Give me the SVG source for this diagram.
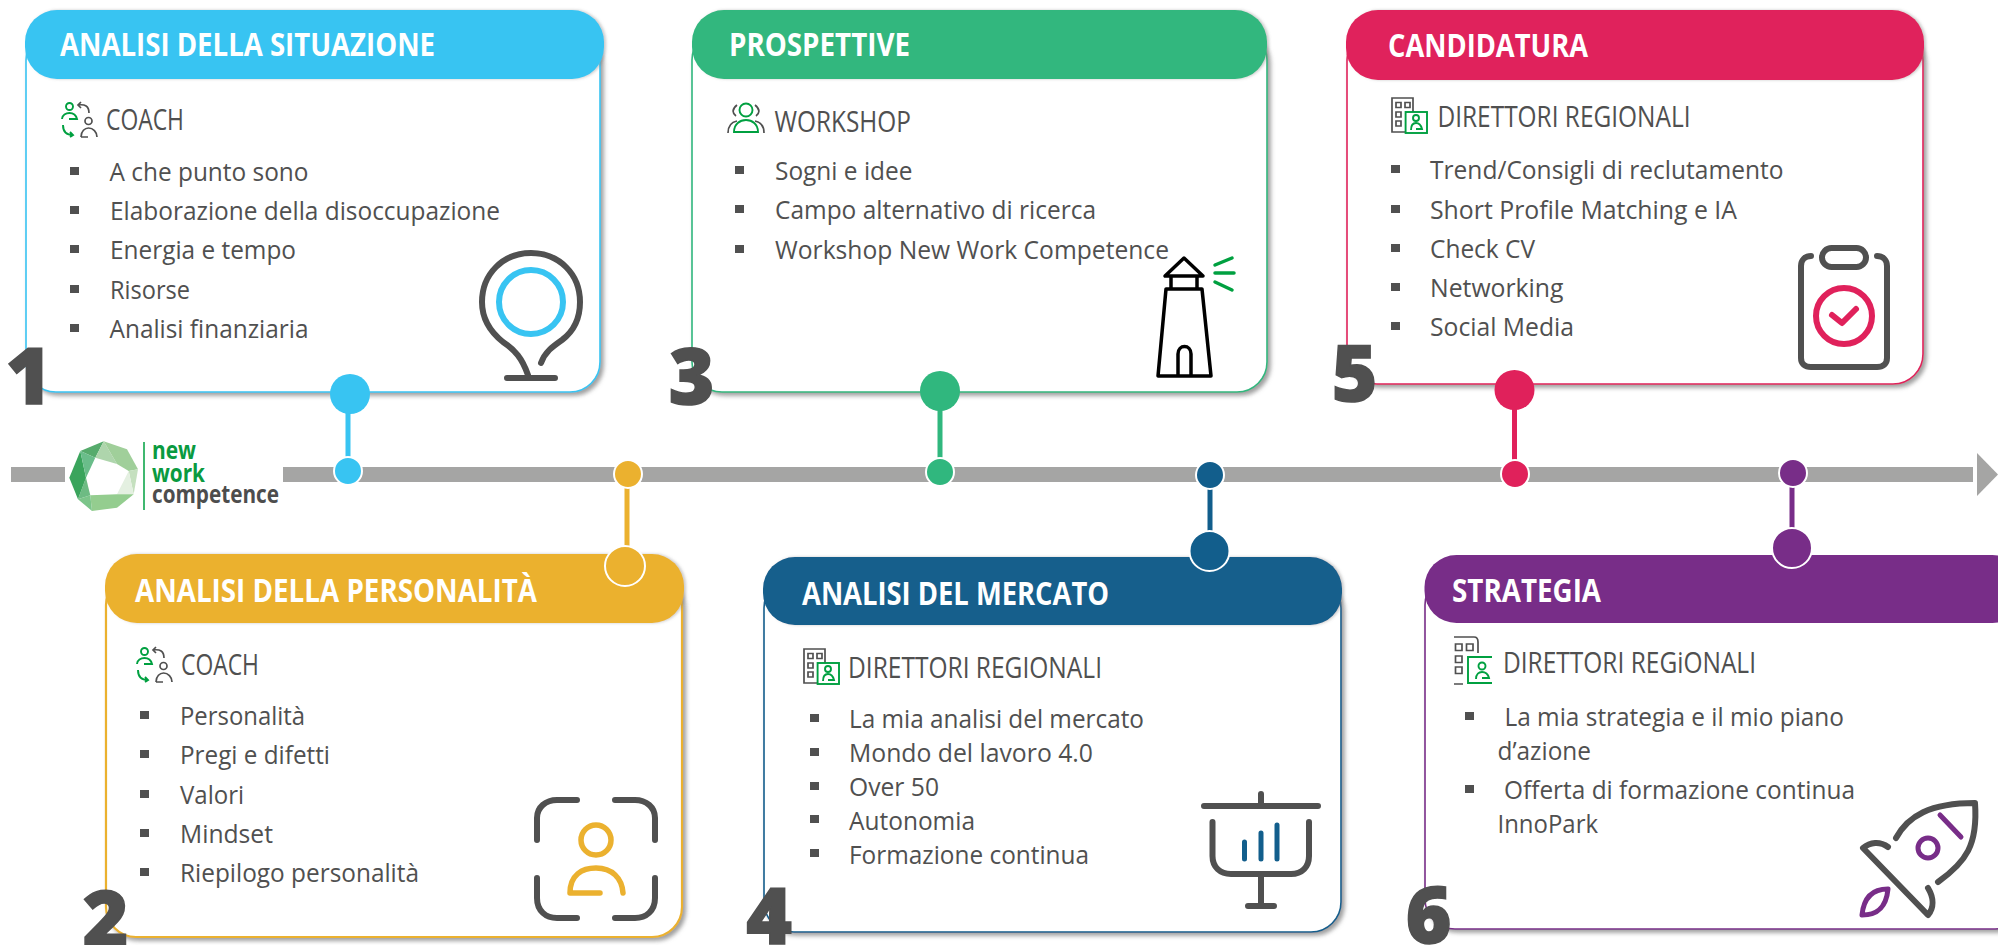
<svg xmlns="http://www.w3.org/2000/svg" width="1998" height="945" viewBox="0 0 1998 945">
<style>
text{font-family:"Open Sans","Liberation Sans",sans-serif;fill:#505050}
.h{font-weight:700;font-size:32px;fill:#fff}
.r{font-size:28.500px}
.t{font-size:25.500px}
.n{font-size:78px;font-weight:800;text-anchor:middle;stroke:#505050;stroke-width:1.500}
.l{font-size:24.500px;font-weight:700}
.body{fill:#fff;stroke-width:1.600;filter:url(#sh)}
.head{filter:url(#sh2)}
.b{fill:#505050}
.i{fill:none;stroke:#505050;stroke-width:6;stroke-linecap:round;stroke-linejoin:round}
.g1{fill:none;stroke:#505050;stroke-width:1.700}
.g2{fill:none;stroke:#00a040;stroke-width:1.900}
</style>
<defs>
<filter id="sh" x="-5%" y="-5%" width="110%" height="110%"><feDropShadow dx="3" dy="3" stdDeviation="2" flood-color="#777" flood-opacity=".7"/></filter>
<filter id="sh2" x="-5%" y="-10%" width="110%" height="120%"><feDropShadow dx="2" dy="0" stdDeviation="1.500" flood-color="#777" flood-opacity=".4"/></filter>
<g id="coach">
<circle class="g2" cx="8.500" cy="4.500" r="3.500"/>
<path class="g2" d="M1 17C1 13 5 11 8.500 11C12 11 15 13 16 17H8M2 23C2 29 5 33 12 33M9 30L12 33L9 35"/>
<path class="g1" d="M17 3C24 2 28 4 28 11M20 0L17 3L20 6M20 35C20 29 24 26 27.500 26C32 26 36 30 36 35M20 35H27"/>
<circle class="g1" cx="27.500" cy="19" r="3.500"/>
</g>
<g id="dir">
<path class="g1" d="M22 15V1H1V35H14"/>
<path class="g1" d="M5 5.500h5v5h-5zM14 5.500h5v5h-5zM5 15h5v5h-5zM5 24h5v5h-5z"/>
<rect class="g2" x="14.600" y="15" width="21.400" height="21"/>
<circle class="g2" cx="25" cy="21" r="3"/>
<path class="g2" d="M20 33C20 28 22 26 25 26C28 26 30 28 31 32H25"/>
</g>
</defs>
<g id="connectors">
<path d="M11 467H65V482H11ZM283 467H1973V482H283Z" fill="#a5a5a4"/>
<path d="M1977 453L1998 474.500L1977 496Z" fill="#a5a5a4"/>
</g>
<g id="card1">
<rect class="body" x="26" y="30" width="574" height="362" rx="30" stroke="#38c4f2"/>
<rect class="head" x="25" y="10" width="579" height="69" rx="32" fill="#38c4f2"/>
<text class="h" x="60" y="56" textLength="375" lengthAdjust="spacingAndGlyphs">ANALISI DELLA SITUAZIONE</text>
<use href="#coach" x="61" y="102"/>
<text class="r" x="106" y="130" textLength="78" lengthAdjust="spacingAndGlyphs">COACH</text>
<path class="b" d="M70 167h9v8h-9zM70 206h9v8h-9zM70 245h9v8h-9zM70 285h9v8h-9zM70 324h9v8h-9z"/>
<text class="t" x="109.500" y="181" textLength="199" lengthAdjust="spacingAndGlyphs">A che punto sono</text>
<text class="t" x="110" y="220" textLength="390" lengthAdjust="spacingAndGlyphs">Elaborazione della disoccupazione</text>
<text class="t" x="110" y="259" textLength="186" lengthAdjust="spacingAndGlyphs">Energia e tempo</text>
<text class="t" x="110" y="299" textLength="80" lengthAdjust="spacingAndGlyphs">Risorse</text>
<text class="t" x="109.500" y="338" textLength="199" lengthAdjust="spacingAndGlyphs">Analisi finanziaria</text>
<path class="i" d="M528 375C522 358 515 350 503 342C488 330 482 316 482 302C482 274 503 253 531 253C559 253 580 274 580 302C580 318 574 331 562 340C552 347 545 352 541 363M507 378H555"/>
<circle cx="531" cy="302" r="32" fill="none" stroke="#38c4f2" stroke-width="6"/>
<text class="n" x="28.500" y="404">1</text>
</g>
<g id="card3">
<rect class="body" x="692" y="30" width="575" height="362" rx="30" stroke="#30b77e"/>
<rect class="head" x="692" y="10" width="575" height="69" rx="32" fill="#30b77e"/>
<text class="h" x="729" y="56" textLength="181" lengthAdjust="spacingAndGlyphs">PROSPETTIVE</text>
<g transform="translate(728,102)">
<ellipse class="g2" cx="18" cy="8" rx="6.500" ry="6.500"/>
<path class="g1" d="M9 3C4 7 4 11 8 14M27 3C32 7 32 11 28 14M0 31C0 24 4 20 9 19M36 31C36 24 32 20 27 19"/>
<path class="g2" d="M6 30C6 22 12 18 18 18C24 18 30 22 30 30Z"/>
</g>
<text class="r" x="774.500" y="132" textLength="136.500" lengthAdjust="spacingAndGlyphs">WORKSHOP</text>
<path class="b" d="M735 166h9v8h-9zM735 205h9v8h-9zM735 245h9v8h-9z"/>
<text class="t" x="775" y="180" textLength="137.500" lengthAdjust="spacingAndGlyphs">Sogni e idee</text>
<text class="t" x="775" y="219" textLength="321" lengthAdjust="spacingAndGlyphs">Campo alternativo di ricerca</text>
<text class="t" x="775" y="259" textLength="394" lengthAdjust="spacingAndGlyphs">Workshop New Work Competence</text>
<path d="M1184 258L1165 276H1203ZM1171 276V289H1197V276M1166 289L1158 376H1211L1202 289ZM1178 376V354C1178 344 1191 344 1191 354V376" fill="none" stroke="#000" stroke-width="3.500" stroke-linejoin="round"/>
<path d="M1215 265L1232 258M1215 273H1234M1215 282L1232 290" fill="none" stroke="#00a040" stroke-width="3.500" stroke-linecap="round"/>
<text class="n" x="691.500" y="404">3</text>
</g>
<g id="card5">
<rect class="body" x="1347" y="30" width="576" height="354" rx="30" stroke="#e0215b"/>
<rect class="head" x="1346" y="10" width="578" height="70" rx="32" fill="#e0215b"/>
<text class="h" x="1388" y="57" textLength="200" lengthAdjust="spacingAndGlyphs">CANDIDATURA</text>
<use href="#dir" x="1391" y="97"/>
<text class="r" x="1437.500" y="127" textLength="253" lengthAdjust="spacingAndGlyphs">DIRETTORI REGIONALI</text>
<path class="b" d="M1391 165h9v8h-9zM1391 205h9v8h-9zM1391 244h9v8h-9zM1391 283h9v8h-9zM1391 322h9v8h-9z"/>
<text class="t" x="1430" y="179" textLength="353.500" lengthAdjust="spacingAndGlyphs">Trend/Consigli di reclutamento</text>
<text class="t" x="1430" y="219" textLength="307" lengthAdjust="spacingAndGlyphs">Short Profile Matching e IA</text>
<text class="t" x="1430" y="258" textLength="105" lengthAdjust="spacingAndGlyphs">Check CV</text>
<text class="t" x="1430" y="297" textLength="133.500" lengthAdjust="spacingAndGlyphs">Networking</text>
<text class="t" x="1430" y="336" textLength="144" lengthAdjust="spacingAndGlyphs">Social Media</text>
<path class="i" d="M1811 256C1805 256 1801 260 1801 266V358C1801 364 1805 367 1811 367H1877C1883 367 1887 364 1887 358V266C1887 260 1883 256 1877 256"/>
<rect class="i" x="1822" y="248" width="44" height="19" rx="9.500"/>
<circle cx="1844" cy="316" r="28" fill="none" stroke="#e0215b" stroke-width="6"/>
<path d="M1832 315L1842 323L1856 309" fill="none" stroke="#e0215b" stroke-width="6" stroke-linecap="round" stroke-linejoin="round"/>
<text class="n" x="1354.500" y="401">5</text>
</g>
<g id="card2">
<rect class="body" x="106" y="575" width="576" height="362" rx="30" stroke="#ebb12f" style="stroke-width:2.200"/>
<rect class="head" x="105" y="554" width="579" height="69" rx="32" fill="#ebb12f"/>
<text class="h" x="135" y="602" textLength="402" lengthAdjust="spacingAndGlyphs">ANALISI DELLA PERSONALITÀ</text>
<use href="#coach" x="136" y="647"/>
<text class="r" x="181" y="675" textLength="78" lengthAdjust="spacingAndGlyphs">COACH</text>
<path class="b" d="M140 711h9v8h-9zM140 750h9v8h-9zM140 790h9v8h-9zM140 829h9v8h-9zM140 868h9v8h-9z"/>
<text class="t" x="180" y="725" textLength="125" lengthAdjust="spacingAndGlyphs">Personalità</text>
<text class="t" x="180" y="764" textLength="150" lengthAdjust="spacingAndGlyphs">Pregi e difetti</text>
<text class="t" x="180" y="804" textLength="64" lengthAdjust="spacingAndGlyphs">Valori</text>
<text class="t" x="180" y="843" textLength="93" lengthAdjust="spacingAndGlyphs">Mindset</text>
<text class="t" x="180" y="882" textLength="239" lengthAdjust="spacingAndGlyphs">Riepilogo personalità</text>
<path class="i" d="M537 840V818C537 807 546 800 557 800H577M615 800H635C646 800 655 807 655 818V840M537 878V898C537 911 546 918 557 918H577M615 918H635C646 918 655 911 655 898V878"/>
<ellipse cx="596" cy="840" rx="15" ry="15" fill="none" stroke="#ebb12f" stroke-width="5.500"/>
<path d="M600 893H570C570 875 582 868 596 868C612 868 622 878 623 893" fill="none" stroke="#ebb12f" stroke-width="5.500" stroke-linecap="round" stroke-linejoin="round"/>
<text class="n" x="105.500" y="947">2</text>
</g>
<g id="card4">
<rect class="body" x="764" y="578" width="577" height="354" rx="30" stroke="#125e8c"/>
<rect class="head" x="763" y="557" width="579" height="68" rx="32" fill="#125e8c"/>
<text class="h" x="802" y="605" textLength="307" lengthAdjust="spacingAndGlyphs">ANALISI DEL MERCATO</text>
<use href="#dir" x="803" y="648"/>
<text class="r" x="848" y="678" textLength="254" lengthAdjust="spacingAndGlyphs">DIRETTORI REGIONALI</text>
<path class="b" d="M810 714h9v8h-9zM810 748h9v8h-9zM810 782h9v8h-9zM810 815h9v8h-9zM810 849h9v8h-9z"/>
<text class="t" x="849" y="728" textLength="295" lengthAdjust="spacingAndGlyphs">La mia analisi del mercato</text>
<text class="t" x="849" y="762" textLength="244" lengthAdjust="spacingAndGlyphs">Mondo del lavoro 4.0</text>
<text class="t" x="849" y="796" textLength="90" lengthAdjust="spacingAndGlyphs">Over 50</text>
<text class="t" x="849" y="830" textLength="126" lengthAdjust="spacingAndGlyphs">Autonomia</text>
<text class="t" x="849" y="864" textLength="240" lengthAdjust="spacingAndGlyphs">Formazione continua</text>
<path class="i" d="M1204 806H1318M1261 794V806M1212.500 822V856C1212.500 867 1220 874 1231 874H1291C1302 874 1309 867 1309 856V822M1261 874V906M1248 906H1274"/>
<path d="M1244.500 842V859M1261 833V859M1277 825V859" fill="none" stroke="#125e8c" stroke-width="5" stroke-linecap="round"/>
<text class="n" x="769" y="944">4</text>
</g>
<g id="card6">
<rect class="body" x="1425" y="575" width="600" height="354" rx="30" stroke="#782d88"/>
<rect x="1424.500" y="555" width="600" height="68" rx="32" fill="#782d88"/>
<text class="h" x="1452" y="602" textLength="149" lengthAdjust="spacingAndGlyphs">STRATEGIA</text>
<g>
<path class="g1" d="M1454 637H1474C1477 637 1478 639 1478 642V653M1454 684H1463"/>
<path class="g1" d="M1455.500 644h6.500v6.500h-6.500zM1466.500 644h6.500v6.500h-6.500zM1455.500 656h6.500v6.500h-6.500zM1455.500 667h6.500v6.500h-6.500z"/>
<path class="g2" d="M1492 657H1468V683H1492"/>
<circle class="g2" cx="1482" cy="666" r="3.500"/>
<path class="g2" d="M1476 679C1476 674 1479 672 1482 672C1485 672 1488 674 1489 678H1482"/>
</g>
<text class="r" x="1503" y="673" textLength="253" lengthAdjust="spacingAndGlyphs">DIRETTORI REGiONALI</text>
<path class="b" d="M1465 712h9v8h-9zM1465 785h9v8h-9z"/>
<text class="t" x="1504.500" y="726" textLength="339.500" lengthAdjust="spacingAndGlyphs">La mia strategia e il mio piano</text>
<text class="t" x="1497.500" y="760" textLength="93.500" lengthAdjust="spacingAndGlyphs">d’azione</text>
<text class="t" x="1504" y="799" textLength="351" lengthAdjust="spacingAndGlyphs">Offerta di formazione continua</text>
<text class="t" x="1497.500" y="833" textLength="100.500" lengthAdjust="spacingAndGlyphs">InnoPark</text>
<path class="i" d="M1896 838C1908 816 1930 803 1975 803C1978 845 1966 862 1938 882M1888 847C1880 841 1870 842 1863 848L1928 915C1934 908 1934 898 1928 888" stroke-width="5.500"/>
<circle cx="1928" cy="848" r="10" fill="none" stroke="#782d88" stroke-width="5"/>
<path d="M1940 815L1961 837M1888 889C1875 889 1864 895 1862 915C1875 915 1886 910 1888 889Z" fill="none" stroke="#782d88" stroke-width="5" stroke-linecap="round" stroke-linejoin="round"/>
<text class="n" x="1428.500" y="943">6</text>
</g>
<g id="pins">
<g fill="#38c4f2"><rect x="345.500" y="394" width="5" height="76"/><circle cx="350" cy="394" r="20"/><circle cx="348" cy="471" r="14" stroke="#fff" stroke-width="2"/></g>
<g fill="#ebb12f"><rect x="624.500" y="474" width="5" height="75"/><circle cx="628" cy="474" r="14" stroke="#fff" stroke-width="2"/><circle cx="625" cy="566" r="20" stroke="#fff" stroke-width="2"/></g>
<g fill="#30b77e"><rect x="937.500" y="391" width="5" height="80"/><circle cx="940" cy="391" r="20"/><circle cx="940" cy="472" r="14" stroke="#fff" stroke-width="2"/></g>
<g fill="#125e8c"><rect x="1207.500" y="475" width="5" height="56"/><circle cx="1210" cy="475" r="14" stroke="#fff" stroke-width="2"/><circle cx="1209.500" cy="551" r="20" stroke="#fff" stroke-width="2"/></g>
<g fill="#e0215b"><rect x="1512" y="390" width="5" height="84"/><circle cx="1514.500" cy="390" r="20"/><circle cx="1515" cy="474" r="14" stroke="#fff" stroke-width="2"/></g>
<g fill="#782d88"><rect x="1789.500" y="473" width="5" height="55"/><circle cx="1793" cy="473" r="14" stroke="#fff" stroke-width="2"/><circle cx="1792" cy="548" r="20" stroke="#fff" stroke-width="2"/></g>
</g>
<g id="logo">
<rect x="66" y="440" width="0" height="0"/>
<path fill="#56ab6c" d="M80.300 451L103.700 441.300L95.300 457.700Z"/>
<path fill="#aed5ac" d="M103.700 441.300L117 464L95.300 457.700Z"/>
<path fill="#a0cf9a" d="M103.700 441.300L127 449.300L138 469.300L128.700 471L117 464Z"/>
<path fill="#c5e0bf" d="M138 469.300L133.700 494.300L128.700 471Z"/>
<path fill="#e4f0e1" d="M128.700 471L133.700 494.300L117 494.300Z"/>
<path fill="#94cd8f" d="M133.700 494.300L117 507.700L92 511L90.300 495.300L117 494.300Z"/>
<path fill="#7cc58a" d="M90.300 495.300L92 511L78 499.300Z"/>
<path fill="#6dbb83" d="M78 499.300L86 477.700L90.300 495.300Z"/>
<path fill="#3aa45c" d="M69.300 477.700L78 499.300L86 477.700L80.300 451Z"/>
<path fill="#6abd8a" d="M80.300 451L95.300 457.700L86 477.700Z"/>
<path d="M144 442V510" stroke="#00a040" stroke-width="1.500"/>
<text class="l" x="152" y="459" textLength="44" lengthAdjust="spacingAndGlyphs" style="fill:#0a9a40">new</text>
<text class="l" x="152" y="482" textLength="53" lengthAdjust="spacingAndGlyphs" style="fill:#0a9a40">work</text>
<text class="l" x="152" y="503" textLength="127" lengthAdjust="spacingAndGlyphs" style="fill:#4d4d4d">competence</text>
</g>
</svg>
